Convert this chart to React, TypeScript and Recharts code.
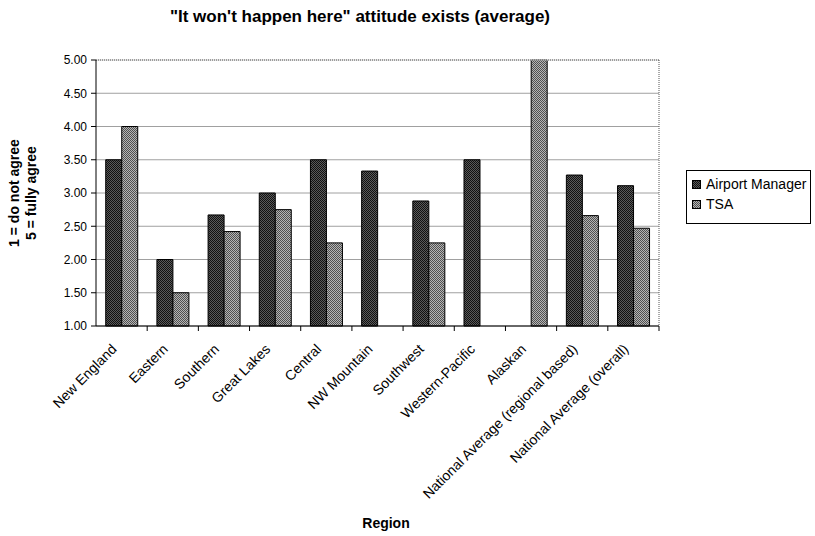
import { BarChart, Bar, XAxis, YAxis, CartesianGrid, ReferenceLine } from 'recharts';

const categories = [
  'New England',
  'Eastern',
  'Southern',
  'Great Lakes',
  'Central',
  'NW Mountain',
  'Southwest',
  'Western-Pacific',
  'Alaskan',
  'National Average (regional based)',
  'National Average (overall)',
];
const airportManager = [3.5, 2.0, 2.67, 3.0, 3.5, 3.33, 2.88, 3.5, null, 3.27, 3.11];
const tsa = [4.0, 1.5, 2.42, 2.75, 2.25, null, 2.25, null, 5.0, 2.66, 2.47];
const yTicks = [1, 1.5, 2, 2.5, 3, 3.5, 4, 4.5, 5];

const data = categories.map((region, i) => ({
  region,
  am: airportManager[i],
  tsa: tsa[i],
}));

const W = 815;
const H = 536;
const PLOT_LEFT = 96;
const PLOT_RIGHT = 659;
const PLOT_TOP = 60;
const PLOT_BOTTOM = 326;
const FONT = '"Liberation Sans", Arial, sans-serif';
const band = (PLOT_RIGHT - PLOT_LEFT) / categories.length;

function RegionTick(props: any) {
  const { x, y, payload } = props;
  const tx = x - 4;
  const ty = y + 24;
  return (
    <g>
      <line x1={x + band / 2} y1={y} x2={x + band / 2} y2={y + 5} stroke="#000" />
      <text
        x={tx}
        y={ty}
        textAnchor="end"
        fontSize={14}
        fontFamily={FONT}
        fill="#000"
        transform={`rotate(-45, ${tx}, ${ty})`}
      >
        {payload.value}
      </text>
    </g>
  );
}

function LegendBox() {
  const items = [
    { label: 'Airport Manager', fill: 'url(#patAM)' },
    { label: 'TSA', fill: 'url(#patTSA)' },
  ];
  return (
    <div
      style={{
        position: 'absolute',
        left: 686,
        top: 170,
        border: '1px solid #000',
        background: '#fff',
        padding: '3px 4px 9px 5px',
        fontFamily: FONT,
        fontSize: 14,
        lineHeight: '20px',
        whiteSpace: 'nowrap',
      }}
    >
      {items.map((it) => (
        <div key={it.label} style={{ display: 'flex', alignItems: 'center' }}>
          <svg width={9} height={9} style={{ marginRight: 5 }}>
            <rect x={0.5} y={0.5} width={8} height={8} fill={it.fill} stroke="#000" />
          </svg>
          <span>{it.label}</span>
        </div>
      ))}
    </div>
  );
}

export default function App() {
  return (
    <div style={{ position: 'absolute', left: 0, top: 0, width: W, height: H, background: '#fff' }}>
      <BarChart
        width={W}
        height={H}
        data={data}
        barCategoryGap="19%"
        barGap={0}
        margin={{ top: PLOT_TOP, left: PLOT_LEFT - 40, right: W - PLOT_RIGHT - 10, bottom: H - PLOT_BOTTOM - 150 }}
      >
        <defs>
          <pattern id="patAM" width={2} height={2} patternUnits="userSpaceOnUse">
            <rect width={2} height={2} fill="#5a5a5a" />
            <rect width={1} height={1} fill="#111" />
            <rect x={1} y={1} width={1} height={1} fill="#111" />
          </pattern>
          <pattern id="patTSA" width={2} height={2} patternUnits="userSpaceOnUse">
            <rect width={2} height={2} fill="#b5b5b5" />
            <rect width={1} height={1} fill="#505050" />
            <rect x={1} y={1} width={1} height={1} fill="#505050" />
          </pattern>
        </defs>
        <CartesianGrid vertical={false} stroke="#a0a0a0" />
        <XAxis
          dataKey="region"
          interval={0}
          height={150}
          tickSize={0}
          tickMargin={0}
          tickLine={false}
          axisLine={{ stroke: '#000' }}
          tick={<RegionTick />}
        />
        <YAxis
          domain={[1, 5]}
          ticks={yTicks}
          width={40}
          tickSize={5}
          tickMargin={4}
          tickFormatter={(v: number) => v.toFixed(2)}
          axisLine={{ stroke: '#000' }}
          tickLine={{ stroke: '#000' }}
          tick={{ fill: '#000', fontSize: 12, fontFamily: FONT }}
        />
        <YAxis
          yAxisId="right"
          orientation="right"
          domain={[1, 5]}
          width={10}
          tick={false}
          tickLine={false}
          axisLine={{ stroke: '#555', strokeDasharray: '1 1' }}
        />
        <ReferenceLine y={5} stroke="#fff" />
        <ReferenceLine y={5} stroke="#555" strokeDasharray="1 1" />
        <Bar dataKey="am" name="Airport Manager" fill="url(#patAM)" stroke="#000" strokeWidth={1} isAnimationActive={false} />
        <Bar dataKey="tsa" name="TSA" fill="url(#patTSA)" stroke="#000" strokeWidth={1} isAnimationActive={false} />
      </BarChart>
      <LegendBox />
      <svg
        width={W}
        height={H}
        style={{ position: 'absolute', left: 0, top: 0, pointerEvents: 'none' }}
      >
        <text x={360} y={22} textAnchor="middle" fontSize={17} fontWeight="bold" fontFamily={FONT}>
          "It won't happen here" attitude exists (average)
        </text>
        <text
          textAnchor="middle"
          fontSize={14}
          fontWeight="bold"
          fontFamily={FONT}
          transform="translate(19, 193) rotate(-90)"
        >
          <tspan x={0} y={0}>1 = do not agree</tspan>
          <tspan x={0} y={17}>5 = fully agree</tspan>
        </text>
        <text x={386} y={528} textAnchor="middle" fontSize={14} fontWeight="bold" fontFamily={FONT}>
          Region
        </text>
      </svg>
    </div>
  );
}
